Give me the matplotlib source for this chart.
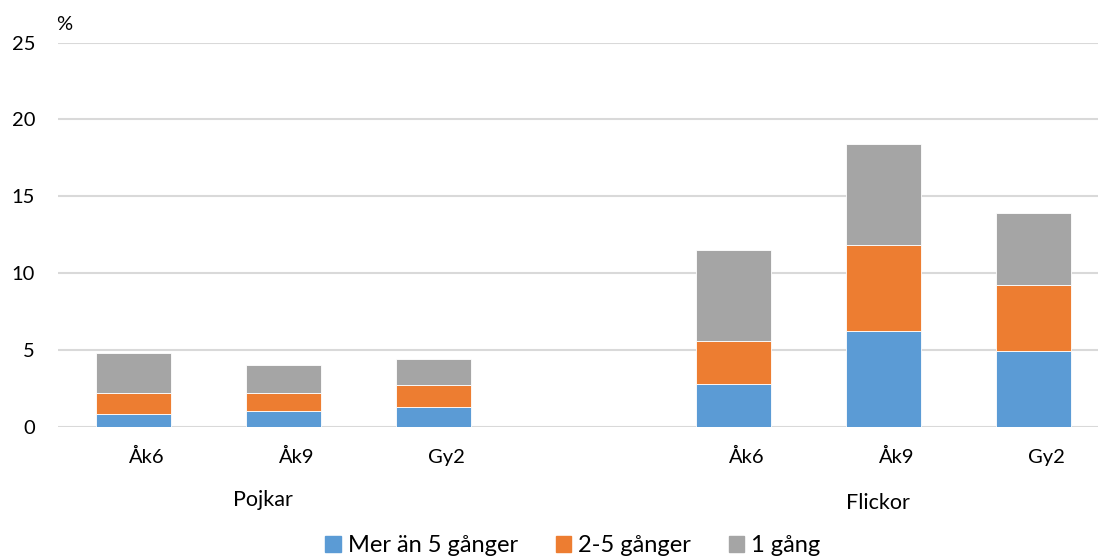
import numpy as np
import matplotlib.pyplot as plt
from matplotlib.patches import Patch

plt.rcParams['font.family'] = ['Lato', 'DejaVu Sans']

### data
groups = ['Pojkar', 'Flickor']
klasser = ['Åk6', 'Åk9', 'Gy2']
serier = ['Mer än 5 gånger', '2-5 gånger', '1 gång']
farger = ['#5B9BD5', '#ED7D31', '#A5A5A5']

mer_an_5 = [0.8, 1.0, 1.3, 2.8, 6.2, 4.9]
tva_fem = [1.4, 1.2, 1.4, 2.8, 5.6, 4.3]
en_gang = [2.6, 1.8, 1.7, 5.9, 6.6, 4.7]

# slots 0-2 pojkar, 3 empty, 4-6 flickor
x = np.array([0, 1, 2, 4, 5, 6])

### plot
fig = plt.figure(figsize=(10.98, 5.56), dpi=100)
ax = fig.add_axes([58/1098, 1-426.5/556, 1040/1098, (426.5-42.7)/556])

bottom = np.zeros(len(x))
for vals, col in zip([mer_an_5, tva_fem, en_gang], farger):
    ax.bar(x, vals, width=0.5, bottom=bottom, color=col, zorder=3,
           edgecolor='white', linewidth=0.6)
    bottom += np.array(vals)

ax.set_xlim(-0.5, (1098-133)/150)
ax.set_ylim(0, 25)
ax.set_yticks([0, 5, 10, 15, 20, 25])
ax.yaxis.grid(True, color='#D9D9D9', linewidth=1.5, zorder=0)
ax.set_axisbelow(True)
for s in ax.spines.values():
    s.set_visible(False)
ax.tick_params(axis='y', length=0, pad=16.5, labelsize=14.5)
ax.set_xticks([])

# category labels (two levels)
for xi, lab in zip(x, klasser * 2):
    ax.text(xi + 0.09, -2.0, lab, ha='center', va='center', fontsize=14.5)
ax.text((263-133)/150, -4.8, groups[0], ha='center', va='center', fontsize=15.5)
ax.text((878-133)/150, -5.0, groups[1], ha='center', va='center', fontsize=15.5)

fig.text(56/1098, 1-25/556, '%', fontsize=14.5, ha='left', va='center')

handles = [Patch(color=c) for c in farger]
fig.legend(handles, serier, ncol=3, loc='center', bbox_to_anchor=(573/1098, 1-546/556),
           frameon=False, fontsize=17, handlelength=0.65, handleheight=0.65,
           handletextpad=0.3, columnspacing=1.6)

plt.savefig('out.png', dpi=100)
